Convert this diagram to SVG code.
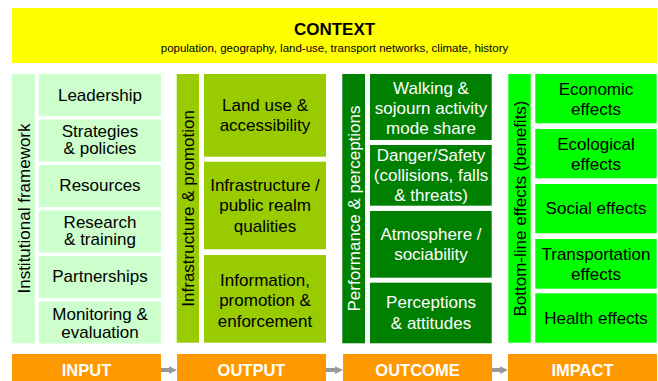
<svg xmlns="http://www.w3.org/2000/svg" width="658" height="381" viewBox="0 0 658 381">
<style>
text{font-family:"Liberation Sans",Arial,sans-serif;text-anchor:middle}
.t{font-size:17px;fill:#000}
.w{font-size:17px;fill:#fff}
.c1{fill:#CCFFCC}
.c2{fill:#99CC00}
.c3{fill:#008000}
.c4{fill:#00FF00}
.or{fill:#FF9900}
.lbl{font-size:16.5px;font-weight:bold;fill:#fff}
.arr{fill:#999999}
</style>
<rect x="0" y="0" width="658" height="381" fill="#fff"/>
<g id="context">
<rect x="12" y="8" width="645" height="55" fill="#FFFF00"/>
<text x="334.5" y="35" style="font-size:17px;font-weight:bold">CONTEXT</text>
<text x="334.5" y="51.7" style="font-size:11.5px">population, geography, land-use, transport networks, climate, history</text>
</g>
<g id="col-input">
<g id="institutional-framework"><rect class="c1" x="12" y="74" width="23" height="269.3"/><text class="t" transform="translate(29.5,208.5) rotate(-90)">Institutional framework</text></g>
<g id="leadership"><rect class="c1" x="39" y="74" width="122" height="42"/><text class="t" x="100" y="101">Leadership</text></g>
<g id="strategies"><rect class="c1" x="39" y="119.5" width="122" height="42"/><text class="t" x="100" y="136.75">Strategies</text><text class="t" x="100" y="154.25">&amp; policies</text></g>
<g id="resources"><rect class="c1" x="39" y="165" width="122" height="42"/><text class="t" x="100" y="191">Resources</text></g>
<g id="research"><rect class="c1" x="39" y="210.5" width="122" height="42"/><text class="t" x="100" y="227.5">Research</text><text class="t" x="100" y="245">&amp; training</text></g>
<g id="partnerships"><rect class="c1" x="39" y="256" width="122" height="42"/><text class="t" x="100" y="282">Partnerships</text></g>
<g id="monitoring"><rect class="c1" x="39" y="301.5" width="122" height="42"/><text class="t" x="100" y="320">Monitoring &amp;</text><text class="t" x="100" y="337.5">evaluation</text></g>
</g>
<g id="col-output">
<g id="infrastructure-promotion"><rect class="c2" x="176.7" y="74" width="22.3" height="268.7"/><text class="t" transform="translate(194,208.4) rotate(-90)">Infrastructure &amp; promotion</text></g>
<g id="land-use"><rect class="c2" x="204" y="74" width="122" height="82.7"/><text class="t" x="265" y="111">Land use &amp;</text><text class="t" x="265" y="131">accessibility</text></g>
<g id="infrastructure"><rect class="c2" x="204" y="161.7" width="122" height="87.6"/><text class="t" x="265" y="190.5">Infrastructure /</text><text class="t" x="265" y="211">public realm</text><text class="t" x="265" y="231.5">qualities</text></g>
<g id="information"><rect class="c2" x="204" y="255" width="122" height="87.7"/><text class="t" x="265" y="285.5">Information,</text><text class="t" x="265" y="306">promotion &amp;</text><text class="t" x="265" y="326.5">enforcement</text></g>
</g>
<g id="col-outcome">
<g id="performance-perceptions"><rect class="c3" x="342.3" y="74" width="22.7" height="269.3"/><text class="w" transform="translate(359.7,208.5) rotate(-90)">Performance &amp; perceptions</text></g>
<g id="walking"><rect class="c3" x="370" y="74" width="121.7" height="66"/><text class="w" x="431" y="93.5">Walking &amp;</text><text class="w" x="431" y="113.5">sojourn activity</text><text class="w" x="431" y="133.5">mode share</text></g>
<g id="danger"><rect class="c3" x="370" y="145" width="121.7" height="60.7"/><text class="w" x="431" y="160.5">Danger/Safety</text><text class="w" x="431" y="180.5">(collisions, falls</text><text class="w" x="431" y="200.5">&amp; threats)</text></g>
<g id="atmosphere"><rect class="c3" x="370" y="211" width="121.7" height="66.7"/><text class="w" x="431" y="240">Atmosphere /</text><text class="w" x="431" y="260">sociability</text></g>
<g id="perceptions"><rect class="c3" x="370" y="282.7" width="121.7" height="60.6"/><text class="w" x="431" y="307.5">Perceptions</text><text class="w" x="431" y="328.5">&amp; attitudes</text></g>
</g>
<g id="col-impact">
<g id="bottom-line"><rect class="c4" x="508.3" y="74" width="22.4" height="268.7"/><text class="t" transform="translate(525.5,208.5) rotate(-90)">Bottom-line effects (benefits)</text></g>
<g id="economic"><rect class="c4" x="535.3" y="74" width="121.4" height="49.3"/><text class="t" x="596" y="95">Economic</text><text class="t" x="596" y="115">effects</text></g>
<g id="ecological"><rect class="c4" x="535.3" y="129" width="121.4" height="49.3"/><text class="t" x="596" y="149.5">Ecological</text><text class="t" x="596" y="170">effects</text></g>
<g id="social"><rect class="c4" x="535.3" y="184" width="121.4" height="49.3"/><text class="t" x="596" y="214">Social effects</text></g>
<g id="transportation"><rect class="c4" x="535.3" y="239" width="121.4" height="49.7"/><text class="t" x="596" y="259.5">Transportation</text><text class="t" x="596" y="280">effects</text></g>
<g id="health"><rect class="c4" x="535.3" y="293.3" width="121.4" height="49.4"/><text class="t" x="596" y="324">Health effects</text></g>
</g>
<g id="stage-input"><rect class="or" x="12" y="354" width="149" height="27"/><text class="lbl" x="86.5" y="376">INPUT</text></g>
<g id="stage-output"><rect class="or" x="177" y="354" width="149" height="27"/><text class="lbl" x="251.5" y="376">OUTPUT</text></g>
<g id="stage-outcome"><rect class="or" x="343" y="354" width="149" height="27"/><text class="lbl" x="417.5" y="376">OUTCOME</text></g>
<g id="stage-impact"><rect class="or" x="508" y="354" width="149" height="27"/><text class="lbl" x="582.5" y="376">IMPACT</text></g>
<g id="connectors">
<path class="arr" d="M161,368 H169 V366.3 L177,370 L169,374 V372 H161 Z"/>
<path class="arr" d="M326,368 H335 V366.3 L343,370 L335,374 V372 H326 Z"/>
<path class="arr" d="M492,368 H500 V366.3 L508,370 L500,374 V372 H492 Z"/>
</g>
</svg>
